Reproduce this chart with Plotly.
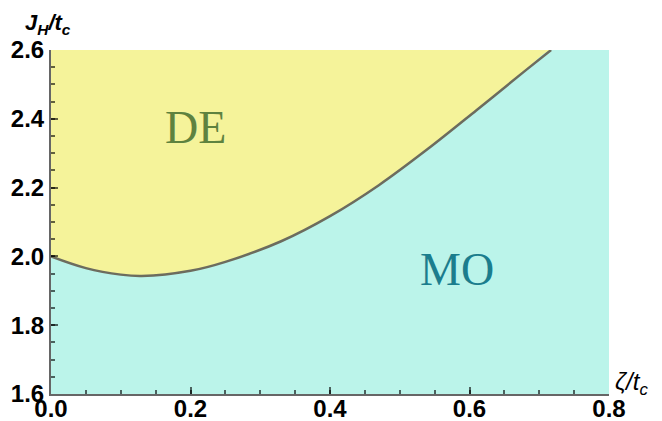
import plotly.graph_objects as go

# Phase boundary between DE (above) and MO (below)
zeta = [0.0, 0.05, 0.10, 0.13, 0.20, 0.25, 0.33, 0.40, 0.47, 0.54, 0.61, 0.68, 0.717]
jh = [2.000, 1.966, 1.947, 1.943, 1.958, 1.984, 2.044, 2.117, 2.207, 2.312, 2.425, 2.540, 2.600]

x_range = [0.0, 0.8]
y_range = [1.6, 2.6]
x_ticks = [0.0, 0.2, 0.4, 0.6, 0.8]
y_ticks = [1.6, 1.8, 2.0, 2.2, 2.4, 2.6]

regions = ["DE", "MO"]
region_x = [0.207, 0.582]
region_y = [2.375, 1.963]

YELLOW = "#f5f39a"
CYAN = "#bbf4ea"

fig = go.Figure()
# MO region: below the boundary, continuing to the right edge at the top
fig.add_trace(go.Scatter(
    x=zeta + [x_range[1]], y=jh + [y_range[1]],
    mode="lines", line=dict(width=0, shape="spline", color=CYAN),
    fill="tozeroy", fillcolor=CYAN, hoverinfo="skip", showlegend=False))
# boundary line
fig.add_trace(go.Scatter(
    x=zeta, y=jh, mode="lines",
    line=dict(color="#6c6c5e", width=2.5, shape="spline"),
    showlegend=False))

axis_common = dict(
    showgrid=False, zeroline=False, showline=True, automargin=False,
    linecolor="rgba(0,0,0,0.6)", linewidth=2,
    ticks="inside", ticklen=7, tickwidth=2, tickcolor="rgba(0,0,0,0.6)",
    tickfont=dict(family="Liberation Sans", size=24, color="black", weight="bold"),
    tickformat=".1f",
    minor=dict(ticks="inside", ticklen=4, tickwidth=1.5, dtick=0.05,
               tickcolor="rgba(0,0,0,0.6)"),
)
fig.update_xaxes(range=x_range, tickvals=x_ticks, ticklabelstandoff=-8, **axis_common)
fig.update_yaxes(range=y_range, tickvals=y_ticks, **axis_common)

colors = ["#5e823f", "#1b7d8d"]
for name, xx, yy, c in zip(regions, region_x, region_y, colors):
    fig.add_annotation(x=xx, y=yy, text=name, showarrow=False,
                       font=dict(family="Liberation Serif", size=46, color=c))

fig.add_annotation(xref="paper", yref="paper", x=-0.05, y=1.075,
                   xanchor="left", yanchor="middle", showarrow=False,
                   text="<b><i>J<sub>H</sub>/t<sub>c</sub></i></b>",
                   font=dict(family="Liberation Sans", size=22, color="black"))
fig.add_annotation(xref="paper", yref="paper", x=1.008, y=0.03,
                   xanchor="left", yanchor="middle", showarrow=False,
                   text="<i>ζ/t<sub>c</sub></i>",
                   font=dict(family="Liberation Sans", size=24, color="black"))

# the page places the figure 8px from the top-left corner
fig.update_layout(
    width=654, height=413,
    margin=dict(l=43, r=53, t=42, b=27),
    plot_bgcolor=YELLOW, paper_bgcolor="white",
)
fig.write_html("out.html")
